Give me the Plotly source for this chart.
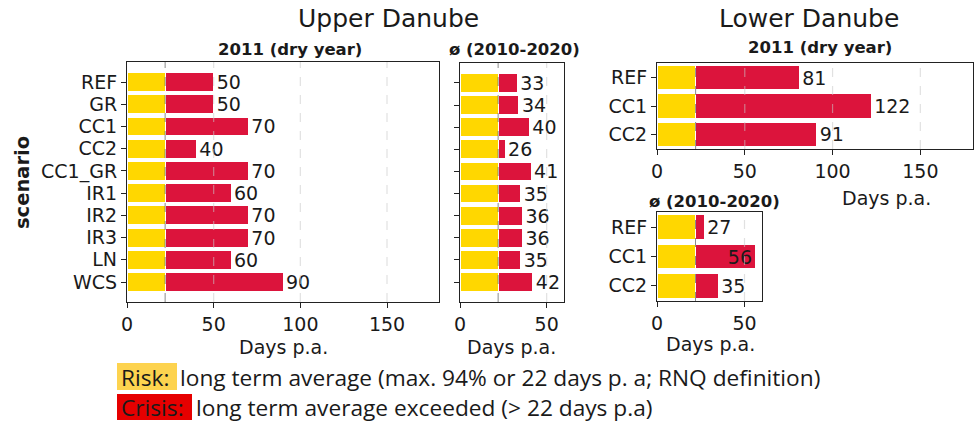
import plotly.graph_objects as go

W, H = 980, 424

# data
upper_scenarios = ["REF", "GR", "CC1", "CC2", "CC1_GR", "IR1", "IR2", "IR3", "LN", "WCS"]
upper_2011 = [50, 50, 70, 40, 70, 60, 70, 70, 60, 90]
upper_avg = [33, 34, 40, 26, 41, 35, 36, 36, 35, 42]

lower_scenarios = ["REF", "CC1", "CC2"]
lower_2011 = [81, 122, 91]
lower_avg = [27, 56, 35]

risk_days = 22  # RNQ definition threshold

YELLOW = "#FFD700"
RED = "#DC143C"
FONT = "DejaVu Sans"
TXT = "#1a1a1a"


def dom_x(a, b):
    return [a / W, b / W]


def dom_y(top, bottom):
    return [1 - bottom / H, 1 - top / H]


fig = go.Figure()

panels = [
    # (values, categories, x range, x ticks, domain x, domain y, show y labels)
    (upper_2011, upper_scenarios, 180, [0, 50, 100, 150], dom_x(127, 439), dom_y(62, 302), True),
    (upper_avg, upper_scenarios, 60, [0, 50], dom_x(460, 564), dom_y(63, 302), False),
    (lower_2011, lower_scenarios, 180, [0, 50, 100, 150], dom_x(657, 973), dom_y(63, 149), True),
    (lower_avg, lower_scenarios, 60, [0, 50], dom_x(657, 762), dom_y(212, 301), True),
]

for i, (vals, cats, xmax, ticks, dx, dy, show_lab) in enumerate(panels, start=1):
    xa = "x" if i == 1 else "x%d" % i
    ya = "y" if i == 1 else "y%d" % i
    risk = [min(v, risk_days) for v in vals]
    crisis = [max(v - risk_days, 0) for v in vals]
    # label goes inside if it would run past the axis end
    pos = ["inside" if v > 0.85 * xmax else "outside" for v in vals]
    fig.add_trace(go.Bar(
        y=cats, x=risk, orientation="h", xaxis=xa, yaxis=ya,
        marker=dict(color=YELLOW, line=dict(color="white", width=1)),
        width=0.85, showlegend=False, hoverinfo="skip"
    ))
    fig.add_trace(go.Bar(
        y=cats, x=crisis, orientation="h", xaxis=xa, yaxis=ya,
        marker=dict(color=RED, line=dict(color="white", width=1)),
        width=0.85, showlegend=False,
        text=[str(v) for v in vals], textposition=pos,
        insidetextanchor="end", constraintext="none", cliponaxis=False,
        textfont=dict(family=FONT, size=19, color=TXT),
        insidetextfont=dict(family=FONT, size=19, color=TXT),
        outsidetextfont=dict(family=FONT, size=19, color=TXT),
    ))

    n = len(cats)
    pad = 0.9 if n > 5 else 0.52
    key = "" if i == 1 else str(i)
    fig.update_layout(**{
        "xaxis" + key: dict(
            domain=dx, anchor=ya, range=[0, xmax], tickvals=ticks,
            showgrid=False, zeroline=False, automargin=False,
            showline=True, mirror=True, linecolor="#222", linewidth=1.2,
            ticks="outside", ticklen=5, tickcolor="#222",
            tickfont=dict(family=FONT, size=19, color=TXT),
        ),
        "yaxis" + key: dict(
            domain=dy, anchor=xa, type="category",
            categoryorder="array", categoryarray=cats,
            tickmode="array", tickvals=cats, ticktext=cats,
            range=[n - 1 + pad, -pad], automargin=False,
            showgrid=False, zeroline=False,
            showline=True, mirror=True, linecolor="#222", linewidth=1.2,
            ticks="outside", ticklen=5, tickcolor="#222",
            showticklabels=show_lab,
            tickfont=dict(family=FONT, size=19, color=TXT),
        ),
    })

    # dashed reference lines drawn over the bars
    for g in ticks[1:]:
        fig.add_shape(type="line", xref=xa, yref=ya + " domain", x0=g, x1=g, y0=0, y1=1,
                      line=dict(color="rgba(200,200,200,0.55)", width=1.2, dash="dash"),
                      layer="above")
    fig.add_shape(type="line", xref=xa, yref=ya + " domain", x0=risk_days, x1=risk_days,
                  y0=0, y1=1, line=dict(color="rgba(90,90,90,0.7)", width=1, dash="dash"),
                  layer="above")

fig.update_layout(barmode="stack")


def note(text, x, y, size, family=FONT, anchor="center", angle=0):
    return dict(text=text, x=x / W, y=1 - y / H, xref="paper", yref="paper",
                xanchor=anchor, yanchor="middle", showarrow=False, textangle=angle,
                font=dict(family=family, size=size, color=TXT))


LEG = "Open Sans"
annotations = [
    note("Upper Danube", 388, 18, 25),
    note("Lower Danube", 809, 18, 25),
    note("<b>2011 (dry year)</b>", 290, 49, 16.5),
    note("<b>ø (2010-2020)</b>", 514, 49, 16.5),
    note("<b>2011 (dry year)</b>", 820, 47, 16.5),
    note("<b>ø (2010-2020)</b>", 714, 202, 16.5),
    note("<b>scenario</b>", 22, 183, 19.5, angle=-90),
    note("Days p.a.", 283, 347, 19),
    note("Days p.a.", 511, 347, 19),
    note("Days p.a.", 886, 198, 19),
    note("Days p.a.", 710, 344, 19),
    note("Risk:", 119, 377, 22.7, LEG, "left"),
    note("long term average (max. 94% or 22 days p. a; RNQ definition)", 178, 377, 22.7, LEG, "left"),
    note("Crisis:", 119, 407, 22.7, LEG, "left"),
    note("long term average exceeded (> 22 days p.a)", 194, 407, 22.7, LEG, "left"),
]
fig.update_layout(annotations=annotations)

# highlight boxes behind legend words
fig.add_shape(type="rect", xref="paper", yref="paper", x0=117 / W, x1=177 / W,
              y0=1 - 390 / H, y1=1 - 363 / H, fillcolor="#FDD34F", line=dict(width=0), layer="below")
fig.add_shape(type="rect", xref="paper", yref="paper", x0=117 / W, x1=192 / W,
              y0=1 - 420 / H, y1=1 - 394 / H, fillcolor="#E60000", line=dict(width=0), layer="below")

fig.update_layout(
    width=W, height=H, autosize=False,
    margin=dict(l=0, r=0, t=0, b=0),
    paper_bgcolor="white", plot_bgcolor="white",
)

# drop the default page margin so the figure sits at the window corner
fig.write_html("out.html", config={"displayModeBar": False},
               post_script="document.body.style.margin='0';")
